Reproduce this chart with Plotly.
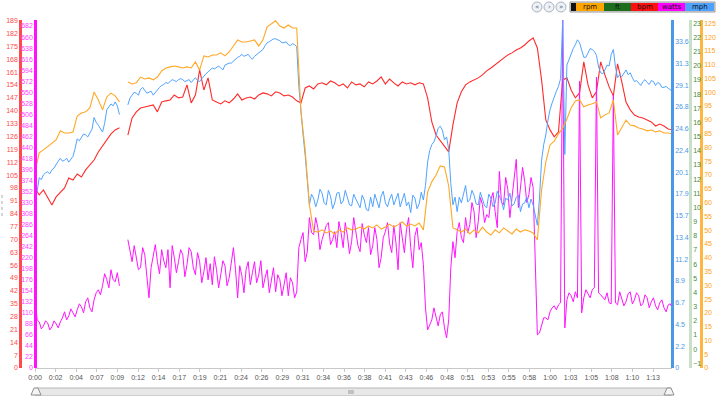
import plotly.graph_objects as go

# ---------------- data ----------------
time_min = [k * 0.5 for k in range(152)]          # coarse samples (0.5 min)

rpm = [71.1, 78.0, 79.1, 80.2, 81.6, 82.7, 86.0, 85.2, 85.2, 85.6,
       91.4, 92.5, 92.9, 94.3, 100.1, 97.2, 93.6, 98.3, 99.7, 98.7,
       96.5, None, 103.7, 103.0, 103.4, 105.5, 104.8, 105.2, 104.5, 105.5,
       107.7, 108.8, 109.2, 109.5, 109.2, 108.8, 109.2, 108.8, 111.0, 108.1,
       113.2, 112.8, 113.5, 113.5, 114.3, 113.2, 114.6, 116.8, 119.0, 118.2,
       118.2, 118.6, 119.0, 116.8, 119.0, 123.7, 124.8, 125.9, 124.0, 123.3,
       124.4, 123.3, 123.3, 92.9, 79.1, 59.1, 49.7, 49.3, 50.1, 49.0,
       49.7, 48.6, 50.1, 49.3, 50.8, 50.1, 50.4, 51.1, 50.4, 51.5,
       50.8, 51.9, 50.4, 51.1, 52.2, 51.1, 51.9, 53.0, 51.5, 52.2,
       51.5, 52.6, 50.1, 63.8, 67.5, 70.0, 73.3, 72.9, 66.0, 50.8,
       50.1, 49.3, 50.4, 48.6, 50.1, 49.0, 51.1, 49.3, 48.2, 50.1,
       49.0, 50.8, 49.7, 48.6, 50.4, 49.3, 50.1, 49.7, 49.0, 46.4,
       64.6, 74.7, 80.9, 82.3, 84.9, 87.0, 90.3, 94.3, 96.8, 97.2,
       94.7, 95.4, 95.8, 96.5, 90.7, 91.8, 92.5, 97.2, 84.5, 87.4,
       89.9, 88.1, 87.8, 87.0, 86.7, 86.0, 86.3, 85.6, 86.0, 85.2,
       85.2, 84.9]

bpm = [98.0, 94.2, 96.9, 92.5, 88.7, 93.1, 95.8, 98.0, 103.4, 102.3,
       105.6, 104.0, 107.8, 110.5, 113.2, 117.6, 120.9, 124.1, 127.4, 129.6,
       130.7, None, 126.8, 136.1, 139.4, 141.5, 142.1, 142.6, 143.2, 139.4,
       144.8, 145.4, 145.9, 148.6, 147.0, 147.5, 154.1, 144.3, 148.6, 162.2,
       151.3, 157.9, 145.9, 144.8, 143.7, 145.4, 144.3, 146.4, 149.2, 145.9,
       147.0, 147.5, 146.4, 148.6, 149.7, 149.2, 148.1, 150.3, 149.7, 148.1,
       148.6, 147.5, 145.4, 144.3, 152.4, 153.5, 151.9, 154.6, 155.2, 154.1,
       156.2, 155.2, 153.5, 154.6, 152.4, 155.7, 154.1, 154.6, 153.0, 155.7,
       154.6, 156.2, 158.4, 154.6, 157.3, 155.2, 153.5, 155.7, 154.6, 155.2,
       154.1, 155.2, 154.6, 147.0, 133.9, 126.8, 123.6, 120.3, 117.6, 132.3,
       144.3, 150.3, 154.1, 155.7, 156.8, 157.9, 159.5, 161.7, 163.3, 165.0,
       166.6, 168.8, 170.4, 171.5, 173.1, 174.2, 175.8, 178.0, 179.7, 174.2,
       156.8, 135.0, 129.6, 125.8, 128.5, 156.8, 157.9, 151.3, 147.0, 149.7,
       166.6, 154.1, 147.0, 150.3, 166.6, 159.5, 153.0, 148.1, 165.5, 155.7,
       144.8, 140.5, 137.7, 136.6, 136.1, 135.0, 133.9, 131.7, 132.8, 131.7,
       130.1, 129.6]

# watts: values on the 0.5-min grid and the readings half-way between them
watts = [146, 92, 84, 90, 82, 88, 92, 112, 104, 110,
         116, 122, 132, 120, 136, 156, 164, 176, 196, 172,
         164, None, 256, 212, 220, 200, 226, 140, 224, 212,
         236, 200, 160, 220, 212, 226, 206, 232, 186, 212,
         192, 176, 166, 196, 186, 204, 180, 240, 140, 184,
         196, 166, 212, 186, 160, 196, 172, 152, 176, 166,
         144, 170, 152, 256, 212, 300, 266, 280, 256, 284,
         246, 272, 292, 240, 264, 252, 276, 232, 266, 280,
         244, 256, 220, 272, 248, 284, 196, 260, 276, 240,
         264, 236, 206, 76, 96, 100, 106, 80, 96, 252,
         272, 260, 300, 286, 312, 292, 326, 306, 336, 312,
         392, 326, 356, 340, 416, 356, 372, 346, 360, 66,
         86, 100, 112, 124, 126, 700, 136, 144, 152, 572,
         140, 148, 156, 580, 146, 136, 130, 544, 126, 140,
         132, 152, 136, 144, 128, 140, 132, 124, 130, 120,
         126, 118]
watts_mid = [96, 78, 94, 76, 94, 80, 100, 96, 118, 102,
             128, 110, 140, 112, 150, 146, 188, 160, 176, 190,
             None, None, 230, 244, 196, 240, 184, 200, 246, 188,
             214, 236, 244, 190, 236, 182, 240, 200, 230, 170,
             220, 208, 222, 160, 214, 164, 210, 196, 204, 150,
             212, 190, 170, 214, 180, 150, 200, 186, 144, 190,
             180, 140, 240, 270, 232, 270, 300, 236, 270, 290,
             256, 240, 270, 290, 228, 300, 244, 288, 250, 226,
             280, 200, 260, 290, 230, 250, 290, 230, 300, 200,
             280, 250, 120, 88, 120, 84, 112, 60, 200, 220,
             290, 250, 270, 330, 260, 340, 290, 300, 350, 280,
             330, 380, 300, 380, 320, 400, 330, 380, 200, 70,
             100, 96, 120, 116, 130, 80, 150, 132, 140, 110,
             156, 140, 160, 150, 140, 150, 128, 130, 152, 124,
             148, 128, 150, 124, 146, 120, 140, 116, 136, 112,
             128]

# mph: same layout as watts
mph = [16.8, 19.6, 19.9, 20.2, 20.4, 21.0, 21.6, 21.4, 21.2, 21.8,
       23.6, 23.8, 24.0, 24.2, 25.8, 25.0, 24.3, 26.6, 27.2, 27.4,
       26.1, None, 27.1, 28.1, 28.3, 28.7, 28.6, 28.4, 28.1, 28.6,
       29.1, 29.4, 29.5, 29.6, 29.7, 29.7, 29.6, 29.4, 29.9, 29.5,
       30.1, 30.5, 30.9, 31.0, 30.9, 31.2, 31.4, 31.6, 32.0, 32.3,
       32.2, 32.0, 32.1, 32.4, 32.8, 33.5, 33.8, 33.9, 33.7, 33.5,
       33.3, 33.4, 33.1, 26.1, 21.9, 16.8, 17.5, 17.3, 18.0, 16.8,
       17.7, 17.0, 18.1, 17.2, 17.6, 16.7, 17.4, 16.5, 17.3, 16.2,
       16.6, 17.3, 17.7, 17.0, 17.4, 16.8, 18.0, 17.2, 16.7, 16.0,
       17.5, 16.9, 17.3, 21.2, 23.0, 23.9, 24.9, 23.5, 22.5, 16.8,
       16.1, 17.0, 18.8, 17.3, 17.8, 16.8, 17.4, 16.5, 17.5, 17.0,
       17.7, 16.3, 17.3, 16.7, 17.6, 16.1, 17.0, 16.5, 16.8, 14.7,
       21.4, 24.0, 26.6, 28.0, 29.0, 35.8, 31.2, 32.5, 33.3, 33.5,
       32.0, 32.5, 32.8, 32.2, 30.4, 30.7, 31.1, 32.8, 29.9, 30.0,
       30.7, 30.4, 29.5, 29.3, 29.5, 29.4, 29.6, 29.1, 29.3, 28.9,
       28.8, 28.5]
mph_mid = [18.5, 19.4, 20.1, 20.0, 20.6, 21.3, 21.3, 21.6, 21.5, 22.6,
           23.4, 24.1, 23.8, 24.6, 25.3, 24.6, 25.2, 26.9, 27.0, 27.0,
           None, None, 27.8, 28.4, 28.1, 28.9, 28.3, 28.5, 28.4, 28.9,
           29.2, 29.3, 29.7, 29.5, 29.8, 29.5, 29.7, 29.6, 29.6, 29.8,
           30.3, 30.7, 30.8, 31.1, 30.7, 31.3, 31.4, 31.9, 32.1, 32.1,
           32.3, 31.8, 32.3, 32.6, 33.2, 33.6, 33.9, 33.8, 33.5, 33.6,
           33.2, 33.3, 29.0, 24.0, 19.5, 17.9, 16.6, 18.4, 17.0, 18.3,
           16.4, 18.0, 16.9, 18.3, 16.8, 17.9, 17.0, 17.8, 16.3, 17.6,
           17.9, 16.5, 18.2, 16.6, 17.9, 17.4, 16.6, 18.0, 17.1, 17.8,
           16.4, 18.1, 18.8, 22.4, 23.3, 24.7, 24.5, 23.8, 19.0, 17.6,
           17.6, 17.9, 17.1, 18.3, 16.9, 18.1, 16.7, 17.9, 16.6, 18.2,
           17.2, 17.5, 18.0, 16.9, 17.8, 16.9, 17.6, 17.4, 15.8, 17.5,
           23.0, 25.5, 27.3, 28.5, 29.8, 22.0, 31.8, 32.9, 33.8, 32.6,
           32.0, 32.9, 32.6, 31.0, 30.3, 31.2, 32.3, 31.0, 30.2, 30.4,
           30.2, 29.9, 29.6, 29.1, 29.7, 29.2, 29.5, 29.4, 28.9, 29.0,
           28.6]

x_tick_labels = ["0:00", "0:02", "0:04", "0:07", "0:09", "0:12", "0:14", "0:17",
                 "0:19", "0:21", "0:24", "0:26", "0:29", "0:31", "0:34", "0:36",
                 "0:38", "0:41", "0:43", "0:46", "0:48", "0:51", "0:53", "0:55",
                 "0:58", "1:00", "1:03", "1:05", "1:08", "1:10", "1:13"]
x_tick_step = 2.44

mph_tick_vals = [0, 2.24, 4.48, 6.72, 8.96, 11.2, 13.44, 15.68, 17.92, 20.16,
                 22.4, 24.64, 26.88, 29.12, 31.36, 33.6]
mph_tick_labels = ["0", "2.2", "4.5", "6.7", "8.9", "11.2", "13.4", "15.7", "17.9",
                   "20.1", "22.4", "24.6", "26.8", "29.1", "31.3", "33.6"]

legend_items = ["rpm", "ft", "bpm", "watts", "mph"]


def interleave(coarse, mid):
    out = []
    for i, v in enumerate(coarse):
        out.append(v)
        if i < len(mid):
            out.append(mid[i])
    return out


time_fine = interleave(time_min, [t + 0.25 for t in time_min[:-1]])
watts_fine = interleave(watts, watts_mid)
mph_fine = interleave(mph, mph_mid)

# ---------------- styling ----------------
W, H = 719, 396
PL, PR, PT, PB = 35, 672, 20, 368   # plot area pixels


def px(x):
    return x / W


def py(y):
    return (PB - y) / (PB - PT)


C_RPM = "#FFA824"
C_FT = "#1E7A1E"
C_BPM = "#FF2A2A"
C_WATTS = "#FF14FF"
C_MPH = "#4FA3FF"

FONT = "Liberation Sans"

fig = go.Figure()
fig.add_trace(go.Scatter(x=time_min, y=rpm, yaxis="y5", mode="lines",
                         line=dict(color=C_RPM, width=1.1), name="rpm"))
fig.add_trace(go.Scatter(x=[None], y=[None], yaxis="y4", mode="lines",
                         line=dict(color=C_FT, width=1.1), name="ft"))
fig.add_trace(go.Scatter(x=time_min, y=bpm, yaxis="y", mode="lines",
                         line=dict(color=C_BPM, width=1.1), name="bpm"))
fig.add_trace(go.Scatter(x=time_fine, y=watts_fine, yaxis="y2", mode="lines",
                         line=dict(color=C_WATTS, width=1), name="watts"))
fig.add_trace(go.Scatter(x=time_fine, y=mph_fine, yaxis="y3", mode="lines",
                         line=dict(color=C_MPH, width=1), name="mph"))

axis_common = dict(showgrid=False, zeroline=False, ticks="", showline=True,
                   linewidth=2.5, automargin=False)

fig.update_layout(
    width=W, height=H,
    margin=dict(l=0, r=0, t=PT, b=H - PB, pad=0, autoexpand=False),
    paper_bgcolor="white", plot_bgcolor="white",
    showlegend=False,
    xaxis=dict(domain=[px(PL), px(PR)], range=[0, (PR - PL) / 8.443],
               automargin=False,
               showgrid=False, zeroline=False, showline=True, linecolor="#c8c8c8",
               linewidth=1, ticks="outside", ticklen=3, tickcolor="#c8c8c8",
               tickvals=[i * x_tick_step for i in range(len(x_tick_labels))],
               ticktext=x_tick_labels,
               tickfont=dict(family=FONT, size=7, color="#555555")),
    yaxis=dict(anchor="free", position=px(20), side="left", range=[0, 189.4],
               dtick=7, tick0=0, linecolor="#FF4A4A",
               tickfont=dict(family=FONT, size=7, color="#FF4A4A"), **axis_common),
    yaxis2=dict(anchor="free", position=px(PL), side="left", overlaying="y",
                range=[0, 694], dtick=22, tick0=0, linecolor="#FF10FF",
                tickfont=dict(family=FONT, size=7, color="#FF40FF"), **axis_common),
    yaxis3=dict(anchor="free", position=px(PR), side="right", overlaying="y",
                range=[0, 35.84], tickvals=mph_tick_vals, ticktext=mph_tick_labels,
                linecolor="#4A98E6",
                tickfont=dict(family=FONT, size=7, color="#4A98E6"), **axis_common),
    yaxis4=dict(anchor="free", position=px(690), side="right", overlaying="y",
                range=[-1.33, 23.23], dtick=1, tick0=0, linecolor="#C9DFC9",
                tickfont=dict(family=FONT, size=7, color="#3F8A3F"), **axis_common),
    yaxis5=dict(anchor="free", position=px(701), side="right", overlaying="y",
                range=[0, 126.2], dtick=5, tick0=0, linecolor="#FFB640",
                tickfont=dict(family=FONT, size=7, color="#FFA020"), **axis_common),
)

shapes = []
annotations = []

# legend boxes (top right)
box_edges = [571, 576, 604, 631, 658, 685, 714]
box_colors = ["#111111", "#FFA500", "#1C6E1C", "#FF1010", "#FF00FF", "#4DA2FF"]
shapes.append(dict(type="rect", xref="paper", yref="paper",
                   x0=px(570), x1=px(715), y0=py(12), y1=py(2),
                   line=dict(color="#9a9a9a", width=1), fillcolor="#dddddd"))
for i, col in enumerate(box_colors):
    shapes.append(dict(type="rect", xref="paper", yref="paper",
                       x0=px(box_edges[i]), x1=px(box_edges[i + 1]),
                       y0=py(11), y1=py(3), line=dict(width=0), fillcolor=col))
for i, name in enumerate(legend_items):
    annotations.append(dict(xref="paper", yref="paper",
                            x=px((box_edges[i + 1] + box_edges[i + 2]) / 2), y=py(7),
                            xanchor="center", yanchor="middle",
                            text=name, showarrow=False,
                            font=dict(family="DejaVu Sans", size=7, color="#111111")))

# navigation buttons
for cx, sym in [(537, "«"), (549, "›"), (561, "»")]:
    shapes.append(dict(type="circle", xref="paper", yref="paper",
                       x0=px(cx - 5), x1=px(cx + 5), y0=py(12), y1=py(2),
                       line=dict(color="#a9b3c3", width=1), fillcolor="#eef1f5"))
    annotations.append(dict(xref="paper", yref="paper", x=px(cx), y=py(7),
                            xanchor="center", yanchor="middle",
                            text=sym, showarrow=False,
                            font=dict(family="DejaVu Sans", size=7, color="#5a6b8a")))

# bottom scrollbar
shapes.append(dict(type="rect", xref="paper", yref="paper",
                   x0=px(36), x1=px(671), y0=py(396), y1=py(388),
                   line=dict(color="#b5b5b5", width=1), fillcolor="#e8e8e8"))
for hx in (36, 669):
    shapes.append(dict(type="path", xref="paper", yref="paper",
                       path=f"M {px(hx - 5)},{py(395)} L {px(hx - 2)},{py(388)} "
                            f"L {px(hx + 2)},{py(388)} L {px(hx + 5)},{py(395)} Z",
                       line=dict(color="#8f8f8f", width=1), fillcolor="#f4f4f4"))
for gx in (349, 351, 353):
    shapes.append(dict(type="line", xref="paper", yref="paper",
                       x0=px(gx), x1=px(gx), y0=py(394), y1=py(390),
                       line=dict(color="#999999", width=1)))

# small dotted mark at far left
shapes.append(dict(type="line", xref="paper", yref="paper",
                   x0=px(2), x1=px(2), y0=py(216), y1=py(192),
                   line=dict(color="#aaaaaa", width=1, dash="dot")))

fig.update_layout(shapes=shapes, annotations=annotations)

fig.write_html("out.html",
               config={"displayModeBar": False},
               post_script="document.body.style.margin='0';"
                           "document.body.style.overflow='hidden';")
